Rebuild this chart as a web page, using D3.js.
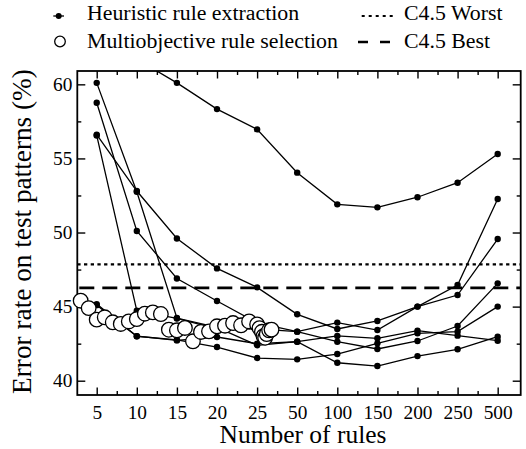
<!DOCTYPE html>
<html>
<head>
<meta charset="utf-8">
<script src="https://cdn.jsdelivr.net/npm/d3@7"></script>
<style>
  html, body { margin: 0; padding: 0; background: #fff; }
  svg, svg text { font-family: "Liberation Serif", "Noto Serif", "DejaVu Serif", serif; }
</style>
</head>
<body>
<svg id="chart" width="526" height="449"></svg>
<script>
// ─── data ───
const ruleCounts = [5, 10, 15, 20, 25, 50, 100, 150, 200, 250, 500];

// heuristic rule extraction, one array per run (error % at each rule count)
const heurRun1 = [63.5, 61.7, 60.1, 58.33, 56.96, 54.04, 51.9, 51.7, 52.38, 53.36, 55.3];
const heurRun2 = [56.6, 52.8, 49.6, 47.58, 46.3, 44.48, 43.49, 44.03, 45.0, 46.46, 52.26];
const heurRun3 = [58.76, 50.1, 46.9, 45.38, 43.9, 43.31, 43.92, 43.42, 45.0, 45.78, 49.56];
const heurRun4 = [60.1, 52.75, 44.23, 43.6, 42.39, 42.63, 43.02, 42.86, 43.38, 43.04, 42.7];
const heurRun5 = [56.55, 44.72, 44.2, 43.5, 43.5, 43.31, 42.63, 42.14, 42.68, 43.69, 46.57];
const heurRun6 = [45.17, 43.0, 42.72, 42.95, 42.5, 42.63, 41.21, 40.99, 41.66, 42.12, 42.97];
const heurRun7 = [45.1, 43.0, 42.75, 42.27, 41.53, 41.44, 41.8, 42.52, 43.2, 43.31, 45.0];

// multiobjective rule selection
const moRules = [3, 4, 5, 6, 7, 8, 9, 10, 11, 12, 13, 14, 15, 16, 17, 18, 19, 20, 21, 22, 23, 24,
                 25, 25.3, 25.6, 25.8, 26, 26.2, 26.5, 26.8];
const moError = [45.4, 44.9, 44.12, 44.28, 43.94, 43.83, 44.0, 44.16, 44.52, 44.61, 44.5, 43.44, 43.4, 43.56,
                 42.66, 43.29, 43.33, 43.67, 43.71, 43.89, 43.74, 44.0,
                 43.8, 43.55, 43.3, 43.0, 42.9, 43.15, 43.4, 43.45];

const c45Worst = 47.85;
const c45Best = 46.27;

const yTicks = [40, 45, 50, 55, 60];
const yMinor = [42.5, 47.5, 52.5, 57.5];

const heurRuns = [heurRun1, heurRun2, heurRun3, heurRun4, heurRun5, heurRun6, heurRun7];

// ─── scales ───
const L = 77.3, R = 520.7, T = 71, B = 395;

// rule count -> slot on the axis (linear to 25, then one slot per tick)
const rulePos = d3.scaleLinear()
  .domain([0, 25, 50, 100, 150, 200, 250, 500])
  .range([0, 5, 6, 7, 8, 9, 10, 11]);
// circles keep the linear part (unclamped) past 25
const moPos = d3.scaleLinear().domain([0, 25]).range([0, 5]);

const x = d3.scaleLinear().domain([0.516, 11.574]).range([L, R]);
const y = d3.scaleLinear().domain([39.035, 60.9]).range([B, T]);

const svg = d3.select('#chart').attr('font-family', 'Liberation Serif');

// size a text so its width matches what the figure shows
function fitSize(text, width) {
  const probe = svg.append('text').attr('font-size', 20).text(text);
  const w = probe.node().getComputedTextLength();
  probe.remove();
  return 20 * width / w;
}
const tickSize = fitSize('500', 29);
const legSize = fitSize('Multiobjective rule selection', 251);

svg.append('defs').append('clipPath').attr('id', 'plot-clip')
  .append('rect').attr('x', L).attr('y', T).attr('width', R - L).attr('height', B - T);

// ─── axes (ticks inward on all four sides) ───
const tickPos = ruleCounts.map(r => rulePos(r));
const minorPos = d3.range(1.5, 11, 1);

function styleAxis(g) {
  g.attr('font-family', null).attr('font-size', tickSize);
  g.select('.domain').remove();
  g.selectAll('line').attr('stroke', '#000').attr('stroke-width', 1.4);
  g.selectAll('text').attr('fill', '#000');
}

svg.append('g').attr('transform', `translate(0,${B})`)
  .call(d3.axisBottom(x).tickValues(tickPos).tickFormat((d, i) => ruleCounts[i]).tickSize(-7.5).tickPadding(10))
  .call(styleAxis);
svg.append('g').attr('transform', `translate(0,${B})`)
  .call(d3.axisBottom(x).tickValues(minorPos).tickFormat('').tickSize(-4))
  .call(styleAxis);
svg.append('g').attr('transform', `translate(0,${T})`)
  .call(d3.axisTop(x).tickValues(tickPos).tickFormat('').tickSize(-7.5))
  .call(styleAxis);
svg.append('g').attr('transform', `translate(0,${T})`)
  .call(d3.axisTop(x).tickValues(minorPos).tickFormat('').tickSize(-4))
  .call(styleAxis);

svg.append('g').attr('transform', `translate(${L},0)`)
  .call(d3.axisLeft(y).tickValues(yTicks).tickSize(-8).tickPadding(5))
  .call(styleAxis);
svg.append('g').attr('transform', `translate(${L},0)`)
  .call(d3.axisLeft(y).tickValues(yMinor).tickFormat('').tickSize(-4))
  .call(styleAxis);
svg.append('g').attr('transform', `translate(${R},0)`)
  .call(d3.axisRight(y).tickValues(yTicks).tickFormat('').tickSize(-8))
  .call(styleAxis);
svg.append('g').attr('transform', `translate(${R},0)`)
  .call(d3.axisRight(y).tickValues(yMinor).tickFormat('').tickSize(-4))
  .call(styleAxis);

// ─── C4.5 reference lines ───
svg.append('line')
  .attr('x1', L).attr('x2', R).attr('y1', y(c45Worst)).attr('y2', y(c45Worst))
  .attr('stroke', '#000').attr('stroke-width', 2.4).attr('stroke-dasharray', '3.3,3.4');
svg.append('line')
  .attr('x1', L + 2).attr('x2', R).attr('y1', y(c45Best)).attr('y2', y(c45Best))
  .attr('stroke', '#000').attr('stroke-width', 2.7).attr('stroke-dasharray', '15,8');

// ─── heuristic runs ───
const plot = svg.append('g').attr('clip-path', 'url(#plot-clip)');
const line = d3.line()
  .x((d, i) => x(rulePos(ruleCounts[i])))
  .y(d => y(d));

heurRuns.forEach(run => {
  plot.append('path').datum(run)
    .attr('d', line)
    .attr('fill', 'none').attr('stroke', '#000').attr('stroke-width', 1.3);
  plot.selectAll(null).data(run).enter().append('circle')
    .attr('cx', (d, i) => x(rulePos(ruleCounts[i])))
    .attr('cy', d => y(d))
    .attr('r', 3.2).attr('fill', '#000');
});

// ─── frame ───
svg.append('rect')
  .attr('x', L).attr('y', T).attr('width', R - L).attr('height', B - T)
  .attr('fill', 'none').attr('stroke', '#000').attr('stroke-width', 1.8);

// ─── multiobjective circles (drawn over everything) ───
svg.append('g').selectAll('circle')
  .data(moRules)
  .enter().append('circle')
  .attr('cx', d => x(moPos(d)))
  .attr('cy', (d, i) => y(moError[i]))
  .attr('r', 7.3)
  .attr('fill', '#fff').attr('stroke', '#000').attr('stroke-width', 1.3);

// ─── axis titles ───
svg.append('text')
  .attr('x', 303).attr('y', 443)
  .attr('text-anchor', 'middle').attr('font-size', fitSize('Number of rules', 167))
  .text('Number of rules');
svg.append('text')
  .attr('transform', 'translate(31,231.5) rotate(-90)')
  .attr('text-anchor', 'middle').attr('font-size', fitSize('Error rate on test patterns (%)', 325))
  .text('Error rate on test patterns (%)');

// ─── legend ───
const leg = svg.append('g').attr('font-size', legSize);
leg.append('line').attr('x1', 53.3).attr('x2', 64).attr('y1', 16).attr('y2', 16)
  .attr('stroke', '#000').attr('stroke-width', 1.3);
leg.append('circle').attr('cx', 58.7).attr('cy', 16).attr('r', 3).attr('fill', '#000');
leg.append('text').attr('x', 87).attr('y', 20).text('Heuristic rule extraction');

leg.append('circle').attr('cx', 60).attr('cy', 41.5).attr('r', 5.3)
  .attr('fill', '#fff').attr('stroke', '#000').attr('stroke-width', 1.3);
leg.append('text').attr('x', 87).attr('y', 48).text('Multiobjective rule selection');

leg.append('line').attr('x1', 361.7).attr('x2', 393.3).attr('y1', 16).attr('y2', 16)
  .attr('stroke', '#000').attr('stroke-width', 2).attr('stroke-dasharray', '3,4');
leg.append('text').attr('x', 404).attr('y', 20).text('C4.5 Worst');

leg.append('line').attr('x1', 358).attr('x2', 390).attr('y1', 42).attr('y2', 42)
  .attr('stroke', '#000').attr('stroke-width', 2.5).attr('stroke-dasharray', '10,12');
leg.append('text').attr('x', 404).attr('y', 48).text('C4.5 Best');
</script>
</body>
</html>
